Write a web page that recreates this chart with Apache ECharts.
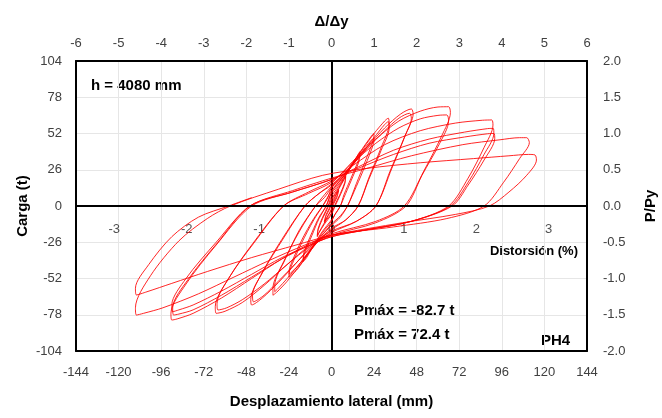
<!DOCTYPE html>
<html>
<head>
<meta charset="utf-8">
<script src="https://cdn.jsdelivr.net/npm/echarts@6/dist/echarts.min.js"></script>
<style>
  html, body { margin: 0; padding: 0; background: #fff; }
  #chart { width: 662px; height: 418px; }
</style>
</head>
<body>
<div id="chart"></div>
<script>
// hysteresis loops, [desplazamiento mm, carga t], grouped by target amplitude
var loop4 = [
  [0, 0], [2, 6], [4, 12], [3, 7], [1, 2], [0, -2], [-2, -7], [-4, -12], [-3, -7], [-1, -2], [0, 2],
  [2, 7], [4, 11], [3, 6], [1, 1], [0, -3], [-2, -7], [-4, -11], [-3, -6], [-1, -1]
];
var loop8 = [
  [0, 4], [4, 12], [7, 19], [8, 22], [7.5, 17], [5, 9], [2, 1], [0, -5], [-4, -12], [-7, -19], [-8, -22], [-7.5, -17], [-5, -9], [-2, -1],
  [0, 5], [4, 13], [7, 19], [8, 21], [7.5, 16], [5, 8], [2, 0], [0, -6], [-4, -13], [-7, -19], [-8, -21], [-7.5, -16], [-5, -8], [-2, 0]
];
var loop16 = [
  [0, 7], [5, 16], [11, 28], [15, 37], [16, 39], [15.5, 34], [11, 20], [7, 8], [5, 0], [2, -6], [0, -10], [-5, -18], [-10, -28], [-14, -37], [-16, -40], [-15.5, -35], [-11, -21], [-7, -9], [-3, 0],
  [0, 9], [5, 17], [11, 28], [15, 35], [16, 37], [15.5, 32], [11, 18], [7, 6], [5, 0], [2, -6], [0, -11], [-5, -19], [-10, -28], [-14, -35], [-16, -38], [-15.5, -33], [-11, -19], [-7, -8], [-3, 0]
];
var loop24 = [
  [0, 10], [6, 20], [13, 33], [19, 44], [23, 51], [24, 52], [23.5, 47], [19, 32], [14, 16], [9, 0], [5, -7], [0, -13], [-6, -22], [-13, -34], [-19, -45], [-23, -50], [-24, -51], [-23.5, -46], [-17, -27], [-10, -10], [-5, 0],
  [0, 11], [6, 20], [13, 32], [19, 42], [23, 48], [24, 49], [23.5, 44], [19, 29], [14, 14], [9, 0], [5, -8], [0, -14], [-6, -22], [-13, -33], [-19, -43], [-23, -48], [-24, -49], [-23.5, -44], [-17, -25], [-10, -9], [-5, 0]
];
var loop32 = [
  [-2, 6], [0, 13], [8, 24], [16, 38], [24, 52], [30, 61], [32, 63], [32.5, 59], [28, 42], [21, 20], [15, 0], [8, -10], [0, -16], [-8, -26], [-17, -41], [-25, -54], [-31, -62], [-33, -64], [-33, -59], [-27, -40], [-18, -18], [-9, 0],
  [-4, 6], [0, 13], [8, 23], [16, 36], [24, 49], [30, 58.5], [32, 60.5], [32.5, 56], [28, 40], [21, 19], [15, 0], [8, -10], [0, -17], [-8, -26], [-17, -40], [-25, -52], [-30, -59], [-32, -61.5], [-32, -57], [-26, -38], [-18, -17], [-9, 0]
];
var loop45 = [
  [-4, 8], [0, 14], [10, 27], [20, 42], [30, 56], [39, 66], [45, 69.6], [46, 66], [42, 52], [34, 27], [25, 0], [14, -11], [0, -18], [-10, -27], [-20, -41], [-30, -55], [-39, -66], [-45, -71], [-45.5, -67], [-40, -50], [-28, -24], [-15, 0],
  [-7, 9], [0, 15], [10, 27], [20, 41], [30, 54], [38, 63], [44, 66.5], [45, 63], [41, 49], [33, 25], [25, 0], [14, -11], [0, -19], [-10, -28], [-20, -41], [-30, -54], [-38, -64], [-44, -68.7], [-44.5, -64], [-39, -48], [-27, -23], [-15, 0]
];
var loop65 = [
  [-7, 9], [0, 16], [12, 32], [25, 48], [38, 61], [50, 68], [60, 71], [66, 71.2], [67, 67], [62, 50], [52, 25], [41, 0], [25, -11], [0, -20], [-12, -28], [-25, -42], [-38, -57], [-50, -69], [-60, -75.5], [-65, -77], [-65.5, -72], [-58, -52], [-45, -28], [-27, 0],
  [-13, 9], [0, 17], [12, 31], [25, 45], [38, 56], [50, 62.5], [60, 65], [65, 65.3], [66, 61], [61, 45], [51, 22], [42, 0], [25, -12], [0, -21], [-12, -29], [-25, -42], [-38, -56], [-50, -67], [-59, -73], [-64, -74.6], [-64.5, -70], [-57, -50], [-44, -27], [-27, 0]
];
var loop90 = [
  [-13, 10], [0, 18], [12, 29], [30, 44], [50, 54], [70, 59.5], [85, 61.5], [90.3, 61.7], [91, 58], [86, 42], [77, 20], [66, 0], [45, -11], [20, -17], [0, -21], [-12, -27], [-28, -38], [-45, -52], [-62, -66], [-78, -77], [-87, -81], [-90, -81.8], [-90.5, -77], [-82, -56], [-65, -28], [-45, 0],
  [-22, 10], [0, 19], [15, 28], [35, 40], [55, 48], [75, 53], [88, 55.5], [91.2, 55.7], [91.5, 52], [86, 37], [77, 17], [67, 0], [45, -11], [20, -17], [0, -22], [-12, -28], [-28, -38], [-45, -51], [-62, -64], [-78, -74.5], [-86, -77.5], [-89, -78.2], [-89.5, -73], [-81, -53], [-64, -26], [-46, 0],
  [-22, 10], [0, 19], [15, 27], [35, 37], [55, 45], [75, 49.5], [88, 51.8], [91.6, 52], [92, 48.5], [86, 33], [77, 15], [68, 0], [45, -11], [20, -17], [0, -22], [-12, -28], [-28, -37], [-45, -49], [-62, -61], [-78, -71], [-86, -74.5], [-89.5, -75.8], [-90, -71], [-82, -52], [-65, -26], [-46, 0]
];
var loop110 = [
  [-22, 11], [0, 20], [20, 27], [45, 36], [74, 44], [95, 47.5], [106, 49], [110, 49], [111.5, 45.5], [106, 34], [97, 17], [86, 0], [65, -9], [35, -15], [0, -21], [-15, -28], [-35, -39], [-55, -51], [-75, -63], [-95, -73], [-106, -77], [-110, -78.2], [-110.5, -73], [-102, -50], [-86, -25], [-70, -9], [-57, 0],
  [-30, 12], [-5, 22], [20, 27], [50, 31], [80, 34], [100, 36], [111, 37], [114.7, 36.6], [115.5, 33], [110, 22], [100, 10], [89, 0], [70, -6], [40, -12], [0, -21], [-20, -28], [-45, -37], [-70, -47], [-90, -55.5], [-104, -61.5], [-110, -63.8], [-110.5, -59], [-103, -42], [-90, -22], [-75, -8], [-58, 0], [-45, 6]
];

var hMM = 4080;                           // altura del muro
var distTicks = [-3, -2, -1, 0, 1, 2, 3]; // distorsion (%)

var curve = [].concat(loop4, loop8, loop16, loop24, loop32, loop45, loop65, loop90, loop110);
var distMarks = distTicks.map(function (v) { return [v, 0]; });

var FONT = '"Liberation Sans", Arial, sans-serif';
var labelStyle = { color: '#404040', fontSize: 13, fontFamily: FONT };
var nameStyle = { color: '#000', fontSize: 15, fontWeight: 'bold', fontFamily: FONT };
var frame = { show: true, onZero: false, lineStyle: { color: '#000', width: 2 } };
var grid = { show: true, lineStyle: { color: '#e6e6e6', width: 1 } };

var dom = document.getElementById('chart');
var myChart = echarts.init(dom, null, { renderer: 'canvas' });

var option = {
  animation: false,
  grid: { left: 76, right: 75, top: 61, bottom: 67, outerBoundsMode: 'none', containLabel: false },
  xAxis: [
    {
      type: 'value', position: 'bottom', min: -144, max: 144, interval: 24,
      axisLine: frame, axisTick: { show: false }, splitLine: grid,
      axisLabel: Object.assign({ margin: 15 }, labelStyle),
      name: 'Desplazamiento lateral (mm)', nameLocation: 'middle', nameGap: 43,
      nameTextStyle: nameStyle
    },
    {
      type: 'value', position: 'top', min: -6, max: 6, interval: 1,
      axisLine: frame, axisTick: { show: false }, splitLine: { show: false },
      axisLabel: Object.assign({ margin: 11 }, labelStyle),
      name: 'Δ/Δy', nameLocation: 'middle', nameGap: 32,
      nameTextStyle: nameStyle
    },
    {
      // distorsion (%) scale, same span as the mm axis
      type: 'value', position: 'bottom', show: false,
      min: -144 / (hMM / 100), max: 144 / (hMM / 100)
    }
  ],
  yAxis: [
    {
      type: 'value', position: 'left', min: -104, max: 104, interval: 26,
      axisLine: frame, axisTick: { show: false }, splitLine: grid,
      axisLabel: Object.assign({ margin: 14 }, labelStyle),
      name: 'Carga (t)', nameLocation: 'middle', nameGap: 46, nameMoveOverlap: false,
      nameTextStyle: nameStyle
    },
    {
      type: 'value', position: 'right', min: -2, max: 2, interval: 0.5,
      axisLine: frame, axisTick: { show: false }, splitLine: { show: false },
      axisLabel: Object.assign({ margin: 16, formatter: function (v) { return v.toFixed(1); } }, labelStyle),
      name: 'P/Py', nameLocation: 'middle', nameGap: 56,
      nameTextStyle: nameStyle
    },
    {
      type: 'value', position: 'left', min: -104, max: 104,
      axisLine: { show: true, onZero: true, onZeroAxisIndex: 0, lineStyle: { color: '#000', width: 2 } },
      axisTick: { show: false }, axisLabel: { show: false }, splitLine: { show: false }
    }
  ],
  graphic: [
    { type: 'text', left: 91, top: 78, style: { text: 'h = 4080 mm', font: 'bold 15px ' + FONT, fill: '#000' } },
    { type: 'text', right: 84, top: 245, style: { text: 'Distorsión (%)', font: 'bold 13px ' + FONT, fill: '#000' } },
    { type: 'text', left: 354, top: 303, style: { text: 'Pmáx = -82.7 t', font: 'bold 15px ' + FONT, fill: '#000' } },
    { type: 'text', left: 354, top: 327, style: { text: 'Pmáx = 72.4 t', font: 'bold 15px ' + FONT, fill: '#000' } },
    { type: 'text', left: 541, top: 333, style: { text: 'PH4', font: 'bold 15px ' + FONT, fill: '#000' } }
  ],
  series: [
    {
      // distorsion tick labels sitting on the zero-load line
      type: 'scatter',
      xAxisIndex: 2,
      yAxisIndex: 0,
      z: 1,
      silent: true,
      symbolSize: 0,
      data: distMarks,
      label: {
        show: true, position: 'bottom', distance: 17,
        formatter: function (p) { return String(p.value[0]); },
        color: '#262626', fontSize: 13, fontFamily: FONT
      },
      markLine: {
        silent: true, symbol: 'none', label: { show: false },
        lineStyle: { color: '#000', width: 2, type: 'solid' },
        data: [{ yAxis: 0 }]
      }
    },
    {
      type: 'line',
      xAxisIndex: 0,
      yAxisIndex: 0,
      z: 3,
      data: curve,
      showSymbol: false,
      smooth: 0.3,
      lineStyle: { color: 'rgba(255,0,0,0.85)', width: 1 }
    }
  ]
};

if (option && typeof option === 'object') {
  myChart.setOption(option);
}

window.addEventListener('resize', myChart.resize);
</script>
</body>
</html>
